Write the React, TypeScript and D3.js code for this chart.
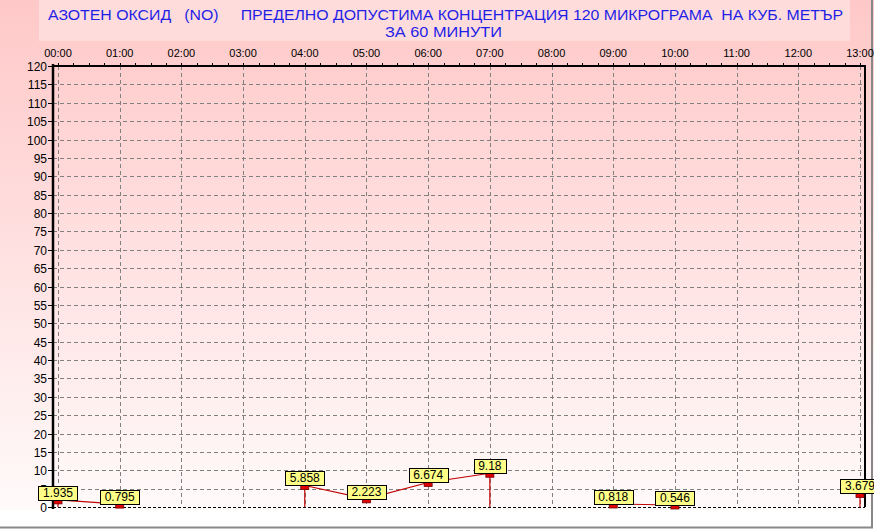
import React, { useEffect, useRef } from "react";
import * as d3 from "d3";

const hours = ["00:00", "01:00", "02:00", "03:00", "04:00", "05:00", "06:00", "07:00", "08:00", "09:00", "10:00", "11:00", "12:00", "13:00"];
const values: (number | null)[] = [1.935, 0.795, null, null, 5.858, 2.223, 6.674, 9.18, null, 0.818, 0.546, null, null, 3.679];
const yTicks = d3.range(0, 121, 5);
const titleLine1 = "АЗОТЕН ОКСИД   (NO)     ПРЕДЕЛНО ДОПУСТИМА КОНЦЕНТРАЦИЯ 120 МИКРОГРАМА  НА КУБ. МЕТЪР";
const titleLine2 = "ЗА 60 МИНУТИ";

const App = () => {
  const svgRef = useRef<SVGSVGElement>(null);

  useEffect(() => {
    document.body.style.margin = "0";
    const svg = d3.select(svgRef.current);
    svg.selectAll("*").remove();

    const width = 874;
    const height = 529;
    const left = 53, right = 865, top = 66, bottom = 507;
    const font = "Arial, 'Liberation Sans', sans-serif";

    const x = d3.scaleLinear().domain([0, 13]).range([58, 860]);
    const y = d3.scaleLinear().domain([0, 120]).range([bottom, top]);

    const defs = svg.append("defs");
    const grad = defs.append("linearGradient")
      .attr("id", "bg").attr("gradientUnits", "userSpaceOnUse")
      .attr("x1", 0).attr("y1", 0).attr("x2", 0).attr("y2", 510);
    grad.append("stop").attr("offset", "0%").attr("stop-color", "#ffc8c8");
    grad.append("stop").attr("offset", "100%").attr("stop-color", "#fffafa");

    svg.append("rect").attr("width", width).attr("height", height).attr("fill", "#fff");
    svg.append("rect").attr("width", width).attr("height", 510).attr("fill", "url(#bg)");

    // outer frame (gray, behind the labels)
    svg.append("line").attr("x1", 872).attr("x2", 872).attr("y1", 0).attr("y2", 528).attr("stroke", "#888").attr("stroke-width", 2);
    svg.append("line").attr("x1", 0).attr("x2", 873).attr("y1", 527.5).attr("y2", 527.5).attr("stroke", "#888").attr("stroke-width", 2);

    // title box
    svg.append("rect").attr("x", 39).attr("y", 0).attr("width", 811).attr("height", 41).attr("fill", "#ffdcdc");
    svg.append("text")
      .attr("x", 48).attr("y", 20)
      .attr("textLength", 795).attr("lengthAdjust", "spacingAndGlyphs")
      .attr("font-family", font).attr("font-size", 15).attr("fill", "#1f1fe6")
      .style("white-space", "pre")
      .text(titleLine1);
    svg.append("text")
      .attr("x", 385).attr("y", 37)
      .attr("textLength", 117).attr("lengthAdjust", "spacingAndGlyphs")
      .attr("font-family", font).attr("font-size", 15).attr("fill", "#1f1fe6")
      .text(titleLine2);

    // grid
    const grid = svg.append("g").attr("stroke", "#808080").attr("stroke-dasharray", "4,3").attr("stroke-width", 1);
    yTicks.filter(t => t > 0 && t < 120).forEach(t => {
      grid.append("line").attr("x1", left).attr("x2", right)
        .attr("y1", Math.round(y(t)) + 0.5).attr("y2", Math.round(y(t)) + 0.5);
    });
    hours.forEach((_, i) => {
      grid.append("line").attr("y1", top).attr("y2", bottom)
        .attr("x1", Math.round(x(i)) + 0.5).attr("x2", Math.round(x(i)) + 0.5);
    });

    // borders
    svg.append("line").attr("x1", left).attr("x2", right).attr("y1", bottom + 0.5).attr("y2", bottom + 0.5)
      .attr("stroke", "#000").attr("stroke-dasharray", "3,2");
    svg.append("line").attr("x1", left).attr("x2", right + 1).attr("y1", top).attr("y2", top)
      .attr("stroke", "#000").attr("stroke-width", 2);
    svg.append("line").attr("x1", right).attr("x2", right).attr("y1", top).attr("y2", bottom)
      .attr("stroke", "#000").attr("stroke-width", 2);
    svg.append("line").attr("x1", left).attr("x2", left).attr("y1", top - 2).attr("y2", bottom + 2)
      .attr("stroke", "#000").attr("stroke-width", 2.5);

    // top ticks every 15 min
    d3.range(0, 13.01, 0.25).forEach(h => {
      svg.append("line").attr("x1", Math.round(x(h)) + 0.5).attr("x2", Math.round(x(h)) + 0.5)
        .attr("y1", top - 3).attr("y2", top).attr("stroke", "#000");
    });

    // y axis ticks and labels
    yTicks.forEach(t => {
      const yy = Math.round(y(t)) + 0.5;
      svg.append("line").attr("x1", 48).attr("x2", left).attr("y1", yy).attr("y2", yy).attr("stroke", "#000");
      svg.append("text").attr("x", 47).attr("y", yy + 4)
        .attr("text-anchor", "end").attr("font-family", font).attr("font-size", 12).attr("fill", "#000")
        .text(t);
    });

    // x labels
    hours.forEach((h, i) => {
      svg.append("text").attr("x", x(i)).attr("y", 57)
        .attr("text-anchor", "middle").attr("font-family", font).attr("font-size", 11).attr("fill", "#000")
        .text(h);
    });

    const pts = values.map((v, i) => ({ i, v }));

    // line
    const line = d3.line<{ i: number; v: number | null }>()
      .defined(d => d.v != null)
      .x(d => x(d.i))
      .y(d => y(d.v as number));
    svg.append("path").datum(pts).attr("fill", "none").attr("stroke", "#c00000").attr("stroke-width", 1.2).attr("d", line);

    // drop lines at segment edges
    pts.forEach((d, k) => {
      if (d.v == null) return;
      const prev = k > 0 ? pts[k - 1].v : null;
      const next = k < pts.length - 1 ? pts[k + 1].v : null;
      if (prev == null || next == null) {
        svg.append("line").attr("x1", x(d.i)).attr("x2", x(d.i)).attr("y1", y(d.v)).attr("y2", bottom)
          .attr("stroke", "#c00000").attr("stroke-width", 1.2);
      }
    });

    // markers
    pts.filter(d => d.v != null).forEach(d => {
      svg.append("rect").attr("x", x(d.i) - 4).attr("y", y(d.v as number))
        .attr("width", 8).attr("height", 4)
        .attr("fill", "#e00000").attr("stroke", "#700000").attr("stroke-width", 0.8);
    });

    // labels
    pts.filter(d => d.v != null).forEach(d => {
      const g = svg.append("g");
      const cx = x(d.i);
      const by = y(d.v as number);
      const txt = g.append("text").attr("x", cx).attr("y", by - 3)
        .attr("text-anchor", "middle").attr("font-family", font).attr("font-size", 12).attr("fill", "#000")
        .text(String(d.v));
      const w = (txt.node() as SVGTextElement).getComputedTextLength() + 9;
      g.insert("rect", "text").attr("x", Math.round(cx - w / 2) + 0.5).attr("y", Math.round(by - 14) + 0.5)
        .attr("width", Math.round(w)).attr("height", 14)
        .attr("fill", "#ffff88").attr("stroke", "#000");
    });
  }, []);

  return <svg ref={svgRef} width={874} height={529} style={{ display: "block" }} />;
};

export default App;
